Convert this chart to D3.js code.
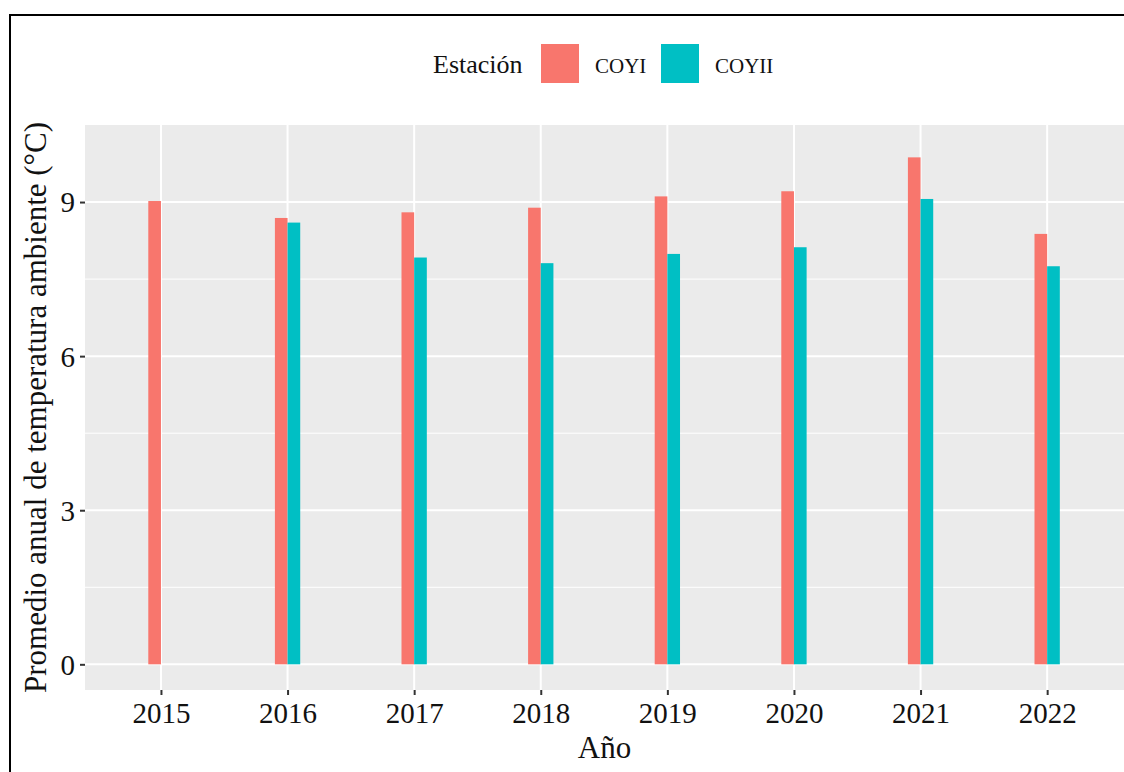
<!DOCTYPE html>
<html>
<head>
<meta charset="utf-8">
<script src="https://cdnjs.cloudflare.com/ajax/libs/d3/7.8.5/d3.min.js"></script>
<style>
  html, body { margin: 0; padding: 0; background: #fff; overflow: hidden; }
  svg { display: block; }
  text { font-family: "Liberation Serif", "Times New Roman", serif; }
</style>
</head>
<body>
<div id="chart"></div>
<script>

// data
var years = ["2015", "2016", "2017", "2018", "2019", "2020", "2021", "2022"];
var stations = ["COYI", "COYII"];
var coyi  = [9.02, 8.69, 8.80, 8.89, 9.11, 9.21, 9.87, 8.38];
var coyii = [null, 8.60, 7.92, 7.81, 7.99, 8.12, 9.06, 7.75];
var yTicks = [0, 3, 6, 9];
var yMinor = [1.5, 4.5, 7.5];
var colors = ["#F8766D", "#00BFC4"];

var W = 1124, H = 772;

var panel = { left: 85, right: 1124, top: 125, bottom: 690 };

var svg = d3.select("#chart")
    .append("svg")
    .attr("width", W)
    .attr("height", H);

// outer frame: only the top and left sides are inside the picture
svg.append("path")
    .attr("d", "M10," + H + " L10,15 L" + W + ",15")
    .attr("fill", "none")
    .attr("stroke", "#000")
    .attr("stroke-width", 2);

var xScale = d3.scalePoint()
    .domain(years)
    .range([panel.left, panel.left + 8.2 * 126.6])
    .padding(0.6);

var yScale = d3.scaleLinear()
    .domain([-0.5, 10.5])
    .range([panel.bottom, panel.top]);

var barW = 12.66;

// panel background
svg.append("rect")
    .attr("x", panel.left)
    .attr("y", panel.top)
    .attr("width", panel.right - panel.left)
    .attr("height", panel.bottom - panel.top)
    .attr("fill", "#EBEBEB");

// grid lines
svg.selectAll(".minor")
    .data(yMinor).enter()
    .append("line")
    .attr("class", "minor")
    .attr("x1", panel.left).attr("x2", panel.right)
    .attr("y1", function(d){ return yScale(d) })
    .attr("y2", function(d){ return yScale(d) })
    .attr("stroke", "#fff")
    .attr("stroke-width", 1);

svg.selectAll(".major")
    .data(yTicks).enter()
    .append("line")
    .attr("class", "major")
    .attr("x1", panel.left).attr("x2", panel.right)
    .attr("y1", function(d){ return yScale(d) })
    .attr("y2", function(d){ return yScale(d) })
    .attr("stroke", "#fff")
    .attr("stroke-width", 2);

svg.selectAll(".vmajor")
    .data(years).enter()
    .append("line")
    .attr("class", "vmajor")
    .attr("x1", function(d){ return xScale(d) })
    .attr("x2", function(d){ return xScale(d) })
    .attr("y1", panel.top).attr("y2", panel.bottom)
    .attr("stroke", "#fff")
    .attr("stroke-width", 2);

// bars, dodged
var series = [coyi, coyii];
series.forEach(function (vals, s) {
    var rows = years.map(function (y, i) { return { year: y, value: vals[i] }; })
        .filter(function (d) { return d.value != null; });

    svg.selectAll(".bar" + s)
        .data(rows).enter()
        .append("rect")
        .attr("class", "bar" + s)
        .attr("x", function(d){ return xScale(d.year) - barW + s * barW })
        .attr("width", barW)
        .attr("y", function(d){ return yScale(d.value) })
        .attr("height", function(d){ return yScale(0) - yScale(d.value) })
        .attr("fill", colors[s]);
});

// axes
var xAxis = d3.axisBottom(xScale).tickSize(5).tickPadding(6);
var yAxis = d3.axisLeft(yScale).tickValues(yTicks).tickSize(5).tickPadding(5);

var gx = svg.append("g")
    .attr("transform", "translate(0," + panel.bottom + ")")
    .call(xAxis);

var gy = svg.append("g")
    .attr("transform", "translate(" + panel.left + ",0)")
    .call(yAxis);

[gx, gy].forEach(function (g) {
    g.select(".domain").remove();
    g.selectAll(".tick line").attr("stroke", "#333").attr("stroke-width", 2);
    g.selectAll(".tick text")
        .attr("fill", "#111")
        .style("font-family", "'Liberation Serif', serif")
        .style("font-size", "29px");
});
gx.selectAll(".tick text").attr("dy", "0.75em");
gy.selectAll(".tick text").attr("dy", "0.34em");

// axis titles
svg.append("text")
    .attr("x", (panel.left + panel.right) / 2)
    .attr("y", 758)
    .attr("text-anchor", "middle")
    .attr("fill", "#111")
    .style("font-size", "31px")
    .text("Año");

svg.append("text")
    .attr("transform", "translate(46," + (panel.top + panel.bottom) / 2 + ") rotate(-90)")
    .attr("text-anchor", "middle")
    .attr("fill", "#111")
    .style("font-size", "31px")
    .text("Promedio anual de temperatura ambiente (°C)");

// legend
var legend = svg.append("g");

legend.append("text")
    .attr("x", 433)
    .attr("y", 73)
    .attr("fill", "#111")
    .style("font-size", "26px")
    .text("Estación");

var keyX = [541, 661];
stations.forEach(function (name, i) {
    legend.append("rect")
        .attr("x", keyX[i])
        .attr("y", 44)
        .attr("width", 38)
        .attr("height", 39)
        .attr("fill", colors[i]);

    legend.append("text")
        .attr("x", keyX[i] + 54)
        .attr("y", 73)
        .attr("fill", "#111")
        .style("font-size", "21px")
        .text(name);
});

</script>
</body>
</html>
